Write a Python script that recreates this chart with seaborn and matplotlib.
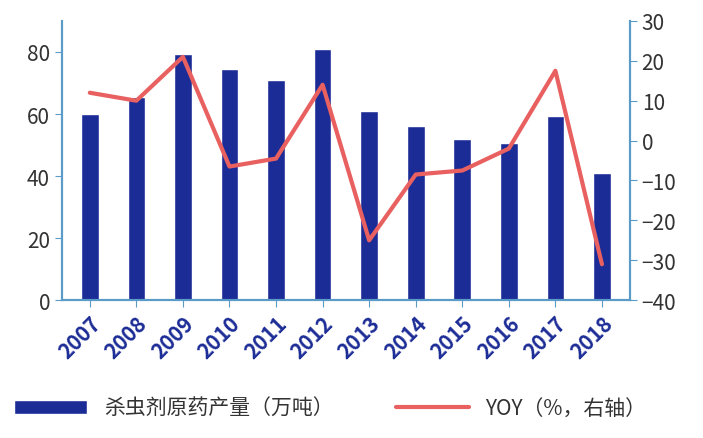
import matplotlib.pyplot as plt
import seaborn as sns
import pandas as pd

years = ['2007', '2008', '2009', '2010', '2011', '2012', '2013', '2014', '2015', '2016', '2017', '2018']
output = [60, 65.5, 79.5, 74.5, 71, 81, 61, 56, 52, 50.5, 59.5, 41]
yoy = [12, 10, 21, -6.5, -4.5, 14, -25, -8.5, -7.5, -2, 17.5, -31]

sns.set_style('white')
plt.rcParams['font.family'] = ['Noto Sans CJK SC', 'DejaVu Sans']

df = pd.DataFrame({'year': years, 'output': output, 'yoy': yoy})

fig = plt.figure(figsize=(7.03, 4.39), dpi=100)
ax = fig.add_axes([0.088, 0.314, 0.808, 0.636])
sns.barplot(data=df, x='year', y='output', color='#1c2c96', width=0.38, ax=ax,
            label='杀虫剂原药产量（万吨）', saturation=1)
ax.set_ylim(0, 90)
ax.set_yticks(range(0, 81, 20))
ax.set_xlabel('')
ax.set_ylabel('')

ax2 = ax.twinx()
sns.lineplot(x=range(len(years)), y=yoy, color='#e8605f', linewidth=3, ax=ax2,
             label='YOY（%，右轴）')
ax2.set_ylim(-40, 30)
ax2.set_yticks(range(-40, 31, 10))
ax.set_xlim(-0.6, 11.6)

spine_c = '#5b9bc8'
for a in (ax, ax2):
    for s in ('top',):
        a.spines[s].set_visible(False)
    for s in ('left', 'right', 'bottom'):
        a.spines[s].set_color(spine_c)
        a.spines[s].set_linewidth(1.5)
    a.tick_params(axis='y', labelsize=15, colors='#333333', length=5, direction='out', color=spine_c)
ax.tick_params(axis='y', left=True)
ax2.tick_params(axis='y', right=True)
ax.tick_params(axis='x', labelsize=15, colors='#1c2c96', bottom=True, color=spine_c, length=5)
plt.setp(ax.get_xticklabels(), rotation=45, ha='right', rotation_mode='anchor', fontweight='bold')

h1, l1 = ax.get_legend_handles_labels()
h2, l2 = ax2.get_legend_handles_labels()
ax2.get_legend().remove()
if ax.get_legend():
    ax.get_legend().remove()
fig.legend(h1 + h2, l1 + l2, loc='lower center', bbox_to_anchor=(0.47, 0.0), ncol=2,
           frameon=False, fontsize=15, handlelength=3.5, columnspacing=3,
           labelcolor='#333333')

fig.savefig('out.png', dpi=100)
